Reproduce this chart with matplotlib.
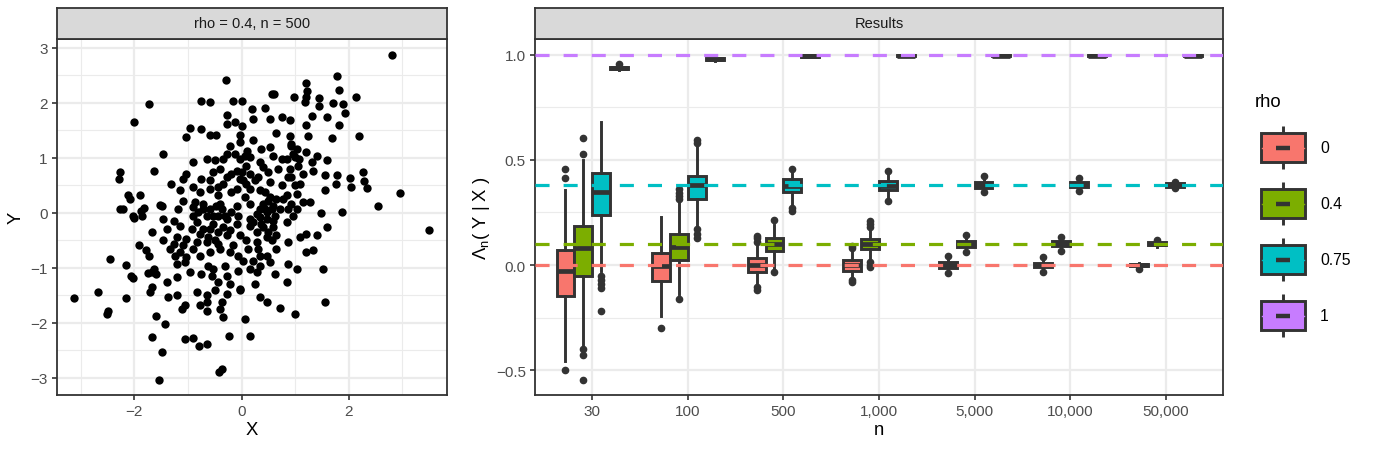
import matplotlib
matplotlib.use('Agg')
import matplotlib.pyplot as plt
from matplotlib.patches import Rectangle

plt.rcParams['font.family'] = ['Liberation Sans', 'DejaVu Sans']
plt.rcParams['mathtext.fontset'] = 'custom'
plt.rcParams['mathtext.rm'] = 'Liberation Sans'
plt.rcParams['mathtext.it'] = 'Liberation Sans:italic'

# ---- left panel: simulated sample (X, Y) ----
scatter_xy = [
    # top / outer region
    (-0.29, 2.42), (-1.72, 1.98), (-0.76, 2.04), (-0.59, 2.02), (-0.16, 2.04), (0.01, 2.03),
    (2.81, 2.87), (1.79, 2.48), (1.21, 2.36), (1.23, 2.22), (1.20, 2.10), (1.82, 2.24),
    (0.56, 2.16), (0.61, 2.16), (0.98, 2.10), (1.18, 2.02), (1.44, 2.08), (1.44, 1.95),
    (1.70, 2.00), (1.90, 1.97), (1.94, 1.82), (2.13, 2.10), (0.19, 1.89), (0.44, 1.91),
    (1.82, 1.59), (1.68, 1.36), (2.20, 1.39), (2.26, 0.75), (2.28, 0.58), (2.35, 0.45),
    (1.79, 0.68), (1.77, 0.52), (2.02, 0.64), (2.05, 0.47), (2.55, 0.13), (2.95, 0.36),
    (1.87, 0.02), (3.49, -0.31),
    # left side
    (-2.00, 1.65), (-2.26, 0.75), (-2.29, 0.61), (-1.63, 0.76), (-2.11, 0.33), (-1.90, 0.33),
    (-2.08, 0.25), (-2.26, 0.07), (-2.22, 0.07), (-1.82, 0.09), (-1.87, 0.04), (-2.03, -0.06),
    (-2.00, -0.10), (-1.85, -0.05), (-1.52, 0.15), (-1.68, -0.35), (-1.91, -0.58), (-1.79, -0.68),
    (-1.73, -0.79), (-2.46, -0.84), (-2.15, -0.94), (-1.75, -1.10), (-1.68, -1.08), (-1.64, -1.02),
    (-1.59, -1.11), (-2.06, -1.14), (-2.02, -1.19), (-1.68, -1.35), (-1.70, -1.43), (-1.59, -1.87),
    (-2.67, -1.43), (-2.16, -1.55), (-3.13, -1.55), (-2.49, -1.78), (-2.51, -1.84),
    # bottom
    (-1.43, -2.02), (-1.68, -2.25), (-1.49, -2.53), (-1.55, -3.03), (-1.06, -2.29), (-0.90, -2.28),
    (-0.80, -2.42), (-0.65, -2.38), (-0.24, -2.24), (-0.37, -2.84), (-0.42, -2.90), (0.15, -2.24),
    # core
    (-0.28, 1.78), (0.21, 1.71), (0.53, 1.70), (0.75, 1.74), (0.90, 1.69), (1.31, 1.76),
    (1.59, 1.74), (1.21, 1.59), (-0.28, 1.62), (-0.12, 1.65), (0.00, 1.58), (-0.96, 1.54),
    (-0.75, 1.53), (-1.04, 1.38), (-0.59, 1.42), (-0.48, 1.41), (-0.03, 1.42), (0.21, 1.33),
    (0.65, 1.45), (0.90, 1.39), (1.24, 1.39),
    (-0.22, 1.22), (-0.03, 1.28), (0.11, 1.13), (0.37, 1.16), (0.53, 1.19), (0.93, 1.25),
    (1.03, 1.16), (0.96, 1.07), (1.21, 1.10), (1.40, 1.04), (1.59, 0.97), (-1.46, 1.07),
    (-0.90, 0.92), (-0.65, 0.98), (-0.50, 0.97), (-0.34, 0.98), (-0.28, 1.07), (-0.12, 1.07),
    (0.16, 1.01), (0.34, 0.92), (0.59, 1.04), (0.75, 0.98), (1.08, 0.98), (1.31, 0.92),
    (-1.03, 0.71), (-1.09, 0.62), (-0.75, 0.62), (-0.53, 0.74), (-0.40, 0.80), (-0.09, 0.77),
    (0.09, 0.86), (0.40, 0.83), (0.50, 0.74), (0.68, 0.80), (0.90, 0.80), (0.93, 0.65),
    (1.15, 0.71), (1.34, 0.77), (1.55, 0.68), (-1.31, 0.53), (-0.90, 0.47), (-0.59, 0.59),
    (-0.28, 0.65), (-0.03, 0.62), (0.09, 0.53), (0.31, 0.65), (0.53, 0.56), (0.75, 0.50),
    (1.09, 0.53), (1.55, 0.41),
    (-1.15, 0.41), (-1.09, 0.22), (-0.78, 0.38), (-0.59, 0.44), (-0.44, 0.32), (-0.19, 0.38),
    (0.06, 0.28), (0.34, 0.41), (0.53, 0.28), (0.65, 0.25), (0.84, 0.32), (1.03, 0.35),
    (1.27, 0.19), (-1.49, 0.13), (-1.18, 0.07), (-0.90, 0.10), (-0.72, 0.16), (-0.40, 0.16),
    (-0.09, 0.13), (0.16, 0.16), (0.40, 0.16), (0.59, 0.13), (0.87, 0.07), (1.15, 0.19),
    (-1.46, -0.11), (-1.27, -0.14), (-0.90, -0.05), (-0.65, -0.05), (-0.44, -0.05), (-0.28, -0.11),
    (-0.06, -0.05), (0.16, -0.11), (0.34, -0.08), (0.47, 0.01), (0.62, -0.05), (0.84, -0.17),
    (0.96, -0.05), (1.49, 0.00), (1.59, -0.26), (-1.15, -0.23), (-0.84, -0.17), (-0.72, -0.29),
    (-0.53, -0.20), (-0.34, -0.26), (-0.09, -0.20), (0.16, -0.23), (0.37, -0.20), (0.59, -0.26),
    (1.21, -0.38), (1.40, -0.41), (-1.40, -0.29),
    (-1.46, -0.50), (-1.27, -0.56), (-1.03, -0.47), (-0.84, -0.53), (-0.62, -0.44), (-0.44, -0.56),
    (-0.28, -0.41), (-0.03, -0.41), (0.09, -0.50), (0.28, -0.53), (0.47, -0.44), (0.65, -0.41),
    (0.87, -0.53), (1.09, -0.44), (-1.15, -0.72), (-0.78, -0.78), (-0.59, -0.72), (-0.40, -0.65),
    (-0.06, -0.78), (0.12, -0.65), (0.31, -0.65), (0.47, -0.78), (0.53, -0.90), (0.87, -0.93),
    (1.21, -0.72), (1.34, -0.68),
    (-1.21, -0.93), (-1.06, -0.90), (-0.62, -0.96), (-0.53, -1.02), (-0.31, -0.96), (-0.06, -1.05),
    (0.16, -1.02), (0.34, -0.96), (0.62, -1.11), (-0.96, -1.08), (-0.75, -1.11), (-0.56, -1.14),
    (-0.28, -1.14), (0.28, -1.08), (1.03, -1.02), (1.52, -1.02), (-1.40, -1.26), (-1.21, -1.17),
    (-0.44, -1.26), (-0.22, -1.29), (-0.03, -1.38), (0.25, -1.29), (0.84, -1.26),
    (-1.37, -1.53), (-1.21, -1.50), (-0.84, -1.44), (-0.65, -1.50), (-0.50, -1.41), (-0.28, -1.47),
    (-0.03, -1.41), (0.34, -1.53), (0.47, -1.62), (-0.65, -1.62), (-0.37, -1.62), (-0.78, -1.68),
    (-1.06, -1.68), (-1.12, -1.75), (-0.65, -1.78), (-0.40, -1.75), (0.06, -1.93), (-0.34, -1.90),
    (0.72, -1.72), (1.00, -1.84), (1.55, -1.62),
    # extra points inside the dense blobs
    (0.44, 0.38), (0.50, 0.22), (0.44, 0.07), (0.56, 0.07), (0.47, -0.11), (0.59, -0.14),
    (0.34, 0.07), (0.28, -0.02), (0.40, -0.26), (0.50, -0.35), (0.28, -0.35), (0.22, -0.17),
    (-0.87, 0.19), (-0.81, 0.01), (-0.72, 0.07), (-0.59, 0.07), (-0.53, -0.05), (-0.47, 0.13),
    (-0.37, 0.07), (-0.31, -0.05), (-0.19, 0.01), (-0.59, -0.29), (-0.44, -0.35), (-0.22, -0.32),
    (-0.78, -0.38), (-0.93, -0.29), (-0.65, -0.53), (-0.50, -0.50),
    (-0.03, 0.98), (0.06, 1.04), (0.00, 0.74), (0.16, 0.71), (0.25, 0.59), (-0.19, 0.71),
    (-0.34, 0.53), (-0.44, 0.47), (-0.09, 0.44), (0.16, 0.44), (0.03, 0.59),
    (0.93, 1.22), (1.00, 1.01), (0.84, 0.98), (1.06, 0.86), (0.87, 0.65), (1.00, 0.50),
    (0.78, 0.25), (0.93, 0.16), (1.03, 0.07), (0.72, 0.07),
    (-1.21, -0.44), (-1.09, -0.59), (-1.34, -0.65), (-1.24, -0.78), (-0.90, -0.65), (-1.03, -0.81),
    (-0.22, -0.72), (-0.16, -0.59), (0.03, -0.87), (0.34, -0.78), (0.22, -0.87), (0.65, -0.65),
    (0.56, -0.50),
]
x_pts = [p[0] for p in scatter_xy]
y_pts = [p[1] for p in scatter_xy]

# ---- right panel: boxplot summaries per rho (rows) and n (columns) ----
n_labels = ['30', '100', '500', '1,000', '5,000', '10,000', '50,000']
rho_labels = ['0', '0.4', '0.75', '1']
rho_colors = ['#F8766D', '#7CAE00', '#00BFC4', '#C77CFF']
ref_values = [0.0, 0.1, 0.38, 1.0]

q1_vals = [
    [-0.149, -0.078, -0.032, -0.027, -0.014, -0.010, -0.005],
    [-0.051, 0.025, 0.065, 0.076, 0.087, 0.089, 0.093],
    [0.238, 0.314, 0.349, 0.358, 0.366, 0.370, 0.372],
    [0.932, 0.976, 0.991, 0.992, 0.992, 0.992, 0.992],
]
med_vals = [
    [-0.030, -0.003, 0.0, 0.0, 0.0, 0.0, 0.0],
    [0.080, 0.087, 0.100, 0.100, 0.100, 0.100, 0.100],
    [0.349, 0.382, 0.377, 0.378, 0.380, 0.381, 0.380],
    [0.937, 0.980, 0.996, 0.996, 0.996, 0.996, 0.996],
]
q3_vals = [
    [0.073, 0.056, 0.033, 0.024, 0.013, 0.010, 0.005],
    [0.187, 0.147, 0.130, 0.124, 0.116, 0.113, 0.108],
    [0.437, 0.422, 0.409, 0.398, 0.393, 0.393, 0.390],
    [0.941, 0.984, 1.0, 1.0, 1.0, 1.0, 1.0],
]
lo_vals = [
    [-0.455, -0.241, -0.090, -0.060, -0.030, -0.025, -0.015],
    [-0.391, -0.138, -0.020, 0.030, 0.065, 0.075, 0.088],
    [-0.030, 0.190, 0.290, 0.320, 0.355, 0.360, 0.368],
    [0.926, 0.972, 0.991, 0.992, 0.992, 0.992, 0.992],
]
hi_vals = [
    [0.357, 0.228, 0.100, 0.070, 0.030, 0.028, 0.012],
    [0.500, 0.300, 0.190, 0.170, 0.135, 0.125, 0.115],
    [0.681, 0.560, 0.440, 0.430, 0.410, 0.405, 0.393],
    [0.948, 0.987, 1.0, 1.0, 1.0, 1.0, 1.0],
]
flier_vals = [
    [[0.414, 0.456, -0.498], [-0.298], [0.11, 0.13, 0.14, -0.105, -0.12],
     [0.08, 0.092, -0.072, -0.082], [0.041, -0.038], [0.037, -0.032], [-0.02]],
    [[0.528, 0.602, -0.40, -0.427, -0.545], [0.315, 0.33, 0.345, 0.36, -0.162],
     [0.214, -0.035], [0.18, 0.195, 0.21, 0.015, 0.0, -0.01], [0.144, 0.06],
     [0.133, 0.068], [0.12]],
    [[-0.05, -0.07, -0.09, -0.11, -0.22], [0.58, 0.594, 0.17, 0.15, 0.13],
     [0.456, 0.27, 0.255], [0.448, 0.306], [0.422, 0.346], [0.412, 0.35], [0.395, 0.366]],
    [[0.955], [], [], [], [], [], []],
]

W, H = 1373, 456
fig = plt.figure(figsize=(W / 100, H / 100), dpi=100)

DARK = '#333333'
GRID = '#EBEBEB'
LW = 2.1


def panel(ax, title):
    for s in ax.spines.values():
        s.set_color(DARK)
        s.set_linewidth(1.3)
    ax.grid(True, which='major', color=GRID, linewidth=1.6, zorder=0)
    ax.grid(True, which='minor', color=GRID, linewidth=0.8, zorder=0)
    ax.set_axisbelow(True)
    ax.tick_params(which='major', length=3.5, width=1.2, color=DARK, pad=3,
                   labelsize=11, labelcolor='#4D4D4D')
    ax.tick_params(which='minor', length=0)
    # facet strip
    pos = ax.get_position()
    strip = fig.add_axes([pos.x0, pos.y1, pos.width, 31 / H])
    strip.set_facecolor('#D9D9D9')
    strip.set_xticks([])
    strip.set_yticks([])
    for s in strip.spines.values():
        s.set_color(DARK)
        s.set_linewidth(1.3)
    strip.text(0.5, 0.5, title, ha='center', va='center', fontsize=10.5,
               color='#1A1A1A', transform=strip.transAxes)


# left: scatter
ax1 = fig.add_axes([56.7 / W, 1 - 396 / H, 390.6 / W, 356 / H])
ax1.scatter(x_pts, y_pts, s=36, color='black', linewidths=0, zorder=3)
ax1.set_xlim(-3.45, 3.84)
ax1.set_ylim(-3.31, 3.16)
ax1.set_xticks([-2, 0, 2])
ax1.set_xticks([-3, -1, 1, 3], minor=True)
ax1.set_yticks([-3, -2, -1, 0, 1, 2, 3])
ax1.set_yticks([-2.5, -1.5, -0.5, 0.5, 1.5, 2.5], minor=True)
ax1.set_xlabel('X', fontsize=13.3, labelpad=2)
ax1.set_ylabel('Y', fontsize=13.3, labelpad=4)
panel(ax1, 'rho = 0.4, n = 500')

# right: boxplots
ax2 = fig.add_axes([535 / W, 1 - 396 / H, 688 / W, 356 / H])
offsets = [-0.28125, -0.09375, 0.09375, 0.28125]
for r in range(len(rho_labels)):
    stats = []
    for j in range(len(n_labels)):
        stats.append(dict(med=med_vals[r][j], q1=q1_vals[r][j], q3=q3_vals[r][j],
                          whislo=lo_vals[r][j], whishi=hi_vals[r][j],
                          fliers=flier_vals[r][j]))
    pos = [j + 1 + offsets[r] for j in range(len(n_labels))]
    ax2.bxp(stats, positions=pos, widths=0.1875, patch_artist=True, showcaps=False,
            boxprops=dict(facecolor=rho_colors[r], edgecolor=DARK, linewidth=LW),
            medianprops=dict(color=DARK, linewidth=3.4, solid_capstyle='butt'),
            whiskerprops=dict(color=DARK, linewidth=LW),
            flierprops=dict(marker='o', markerfacecolor=DARK, markeredgecolor=DARK,
                            markersize=4.5),
            manage_ticks=False, zorder=3)
for v, c in zip(ref_values, rho_colors):
    ax2.axhline(v, color=c, linewidth=2.3, dashes=(4.4, 4.4), zorder=5)

ax2.set_xlim(0.4, 7.6)
ax2.set_ylim(-0.618, 1.075)
ax2.set_xticks(range(1, len(n_labels) + 1))
ax2.set_xticklabels(n_labels)
ax2.set_yticks([-0.5, 0.0, 0.5, 1.0])
ax2.set_yticklabels(['\u22120.5', '0.0', '0.5', '1.0'])
ax2.set_yticks([-0.25, 0.25, 0.75], minor=True)
ax2.set_xlabel('n', fontsize=13.3, labelpad=2)
ax2.set_ylabel(r'$\mathrm{\Lambda_n}$( Y | X )', fontsize=13.3, labelpad=3)
panel(ax2, 'Results')

# legend drawn in figure pixel space
leg = fig.add_axes([0, 0, 1, 1], facecolor='none')
leg.set_xlim(0, W)
leg.set_ylim(H, 0)
leg.axis('off')
leg.text(1255, 103, 'rho', fontsize=13.3, va='center', ha='left', color='black')
for k, (lab, c) in enumerate(zip(rho_labels, rho_colors)):
    yc = 148.5 + 56 * k
    leg.plot([1283, 1283], [yc - 21.5, yc + 21.5], color=DARK, linewidth=LW,
             solid_capstyle='butt')
    leg.add_patch(Rectangle((1261, yc - 14.5), 44, 29, facecolor=c, edgecolor=DARK,
                            linewidth=LW, zorder=3))
    leg.plot([1262, 1304], [yc, yc], color=c, linewidth=1, zorder=4)
    leg.plot([1276, 1290], [yc, yc], color=DARK, linewidth=3.2, zorder=5,
             solid_capstyle='butt')
    leg.text(1320, yc, lab, fontsize=11.3, va='center', ha='left', color='black')

fig.savefig('out.png', dpi=100)
